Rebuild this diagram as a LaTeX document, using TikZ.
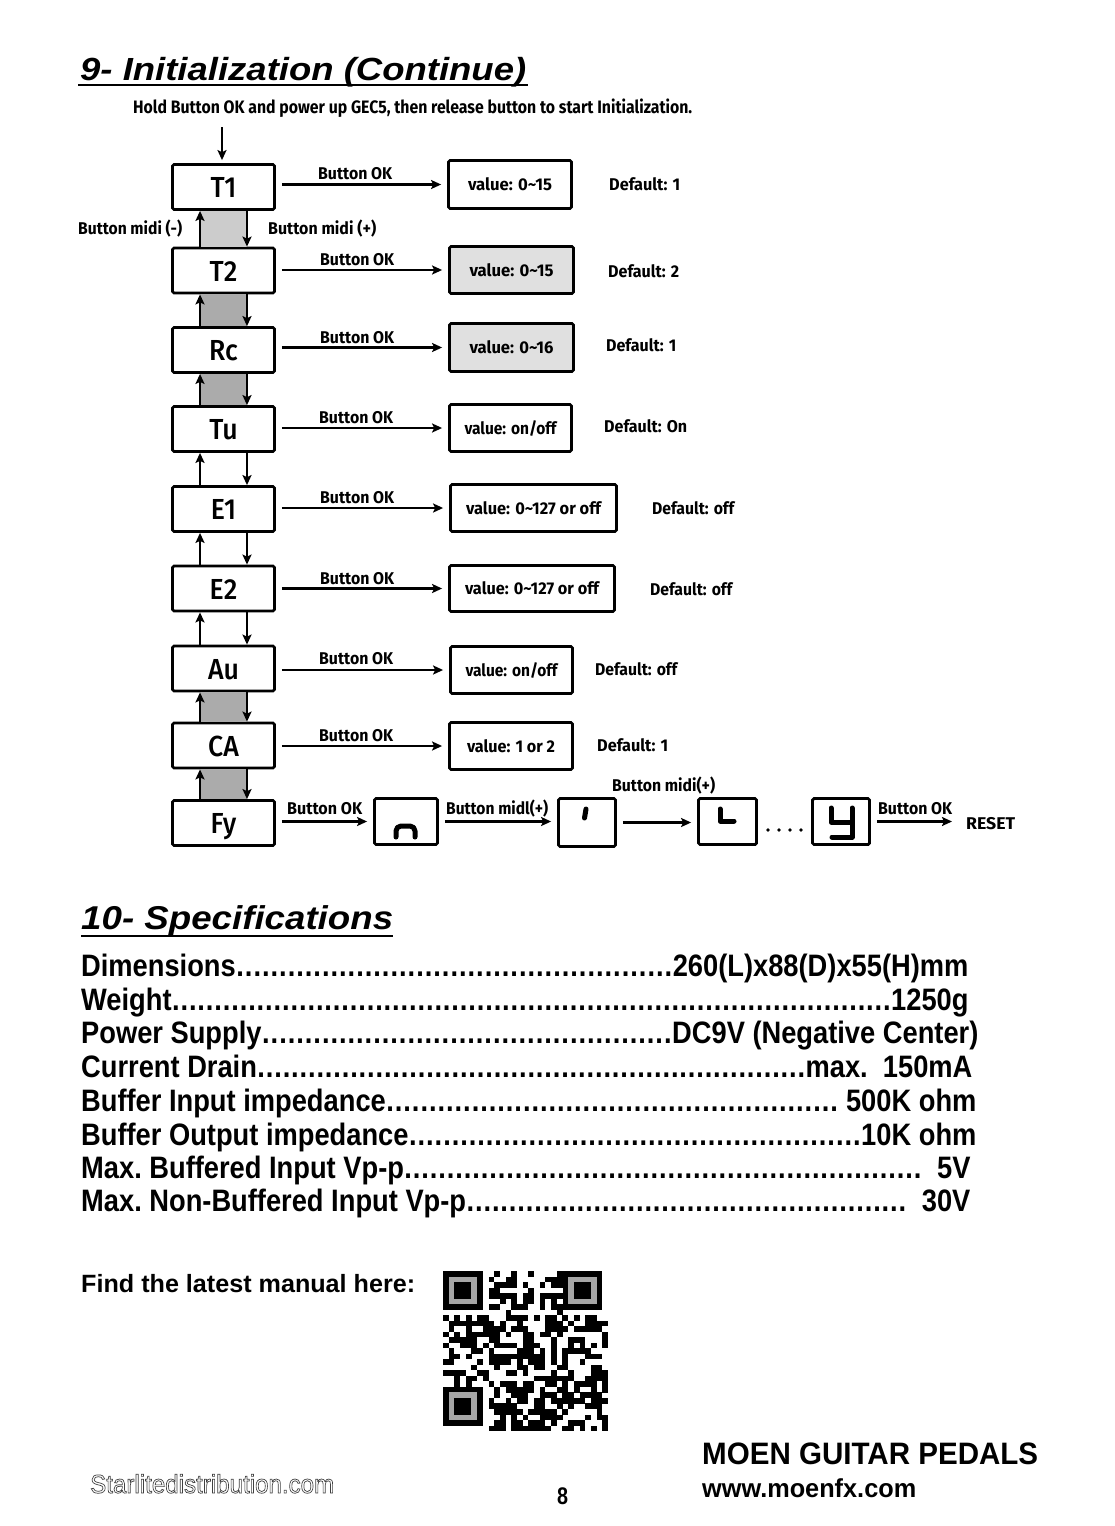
\documentclass[tikz,border=0pt]{standalone}
\usepackage{fontspec}
\usepackage{graphicx}
\usetikzlibrary{arrows.meta,calc}
\setmainfont{Liberation Sans}
\newfontfamily\cnd[FakeStretch=0.8]{Fira Sans}
\newfontfamily\bxf[FakeStretch=0.92]{Fira Sans Medium}
\newfontfamily\spf[FakeStretch=0.88]{Liberation Sans}
\newcommand{\fw}[2]{\resizebox{#1pt}{\height}{#2}}
\newcommand{\fsz}[1]{\fontsize{#1}{#1}\selectfont}
\newcommand{\specdots}{\xleaders\hbox to 8.4pt{\hss.\hss}\hfill}
\begin{document}
\begin{tikzpicture}[x=1pt,y=-1pt,
  box/.style={draw, line width=2.8pt, rounded corners=1.5pt, minimum width=102pt, minimum height=45pt,
    inner sep=0pt, font=\bxf\fsz{29}, text height=21pt, text depth=0pt},
  valbox/.style={draw, line width=2.8pt, rounded corners=1.5pt, inner sep=0pt,
    font=\cnd\bfseries\fsz{17}, text height=12pt, text depth=0pt},
  sbox/.style={draw, line width=2.8pt, rounded corners=1.5pt, inner sep=0pt},
  lbl/.style={inner sep=0pt, anchor=base west, font=\cnd\bfseries\fsz{17}, text depth=0pt},
  harrow/.style={line width=2.2pt, -{Stealth[length=10pt,width=9pt,inset=2pt]}, shorten <=6pt, shorten >=6pt},
  varrow/.style={line width=2.6pt, -{Stealth[length=10pt,width=9pt,inset=2pt]}},
  seg/.style={line width=5pt, line cap=round, line join=round},
  spec/.style={inner sep=0pt, anchor=base west, font=\spf\bfseries\fsz{31}},
  gfill/.style={fill=black!33},
  gfilll/.style={fill=black!20},
]
\useasboundingbox (0,0) rectangle (1115,1526);
\fill[white] (0,0) rectangle (1115,1526);

% ---------- Title ----------
\node[inner sep=0pt, anchor=base west] (ttl) at (80,80) {\fw{446}{\bfseries\itshape\fsz{32}9- Initialization (Continue)}};
\draw[line width=2.8pt] (78,85) -- (528,85);
\node[lbl] (sub) at (133,113) {\fw{559}{\fsz{18}Hold Button OK and power up GEC5, then release button to start Initialization.}};

% ---------- Left column ----------
\node[box] (T1) at (223.5,187) {T1};
\node[box] (T2) at (223.5,270.5) {T2};
\node[box] (Rc) at (223.5,350) {Rc};
\node[box] (Tu) at (223.5,429) {Tu};
\node[box] (E1) at (223.5,509) {E1};
\node[box] (E2) at (223.5,588.5) {E2};
\node[box] (Au) at (223.5,668.5) {Au};
\node[box] (CA) at (223.5,745.5) {CA};
\node[box] (Fy) at (223.5,823) {Fy};

\coordinate (start) at (222,127);
\draw[varrow, shorten >=3pt] (start) -- (start |- T1.north);

% gray fills
\fill[gfilll] ([xshift=-23.5pt]T1.south) rectangle ([xshift=23.5pt]T2.north);
\fill[gfill] ([xshift=-23.5pt]T2.south) rectangle ([xshift=23.5pt]Rc.north);
\fill[gfill] ([xshift=-23.5pt]Rc.south) rectangle ([xshift=23.5pt]Tu.north);
\fill[gfill] ([xshift=-23.5pt]Au.south) rectangle ([xshift=23.5pt]CA.north);
\fill[gfill] ([xshift=-23.5pt]CA.south) rectangle ([xshift=23.5pt]Fy.north);

% up / down arrows
\foreach \u/\l in {T1/T2, T2/Rc, Rc/Tu, Tu/E1, E1/E2, E2/Au, Au/CA, CA/Fy}{
  \draw[varrow] ([xshift=-23.5pt]\l.north) -- ([xshift=-23.5pt]\u.south);
  \draw[varrow] ([xshift=23.5pt]\u.south) -- ([xshift=23.5pt]\l.north);
}
\node[lbl] (bm) at (78,234) {\fw{104}{Button midi (-)}};
\node[lbl] (bp) at (268,234) {\fw{108}{Button midi (+)}};

% ---------- Value boxes ----------
\node[valbox, minimum width=123pt, minimum height=48pt] (v1) at (510,184.5) {\fw{84}{value: 0\textasciitilde15}};
\node[valbox, fill=black!12, minimum width=124pt, minimum height=47pt] (v2) at (511.5,270) {\fw{84}{value: 0\textasciitilde15}};
\node[valbox, fill=black!12, minimum width=124pt, minimum height=48pt] (v3) at (511.5,347.5) {\fw{84}{value: 0\textasciitilde16}};
\node[valbox, minimum width=122pt, minimum height=47pt] (v4) at (510.5,428) {\fw{92}{value: on/off}};
\node[valbox, minimum width=166pt, minimum height=47pt] (v5) at (533.5,508) {\fw{135}{value: 0\textasciitilde127 or off}};
\node[valbox, minimum width=165pt, minimum height=46pt] (v6) at (532,588.5) {\fw{134}{value: 0\textasciitilde127 or off}};
\node[valbox, minimum width=122pt, minimum height=47pt] (v7) at (511.5,670) {\fw{92}{value: on/off}};
\node[valbox, minimum width=123pt, minimum height=47pt] (v8) at (511,746) {\fw{88}{value: 1 or 2}};

\foreach \b/\v in {T1/v1, T2/v2, Rc/v3, Tu/v4, E1/v5, E2/v6, Au/v7, CA/v8}{
  \draw[harrow] (\v.west -| \b.east) -- (\v.west);
}
\node[lbl] (ok1) at (318,179) {\fw{74}{Button OK}};
\node[lbl] (ok2) at (320,265) {\fw{74}{Button OK}};
\node[lbl] (ok3) at (320,343) {\fw{74}{Button OK}};
\node[lbl] (ok4) at (319,423) {\fw{74}{Button OK}};
\node[lbl] (ok5) at (320,503) {\fw{74}{Button OK}};
\node[lbl] (ok6) at (320,584) {\fw{74}{Button OK}};
\node[lbl] (ok7) at (319,664) {\fw{74}{Button OK}};
\node[lbl] (ok8) at (319,741) {\fw{74}{Button OK}};

\node[lbl] (d1) at (609,190) {\fw{71}{Default: 1}};
\node[lbl] (d2) at (608,277) {\fw{71}{Default: 2}};
\node[lbl] (d3) at (606,351) {\fw{70}{Default: 1}};
\node[lbl] (d4) at (604,432) {\fw{83}{Default: On}};
\node[lbl] (d5) at (652,514) {\fw{82}{Default: off}};
\node[lbl] (d6) at (650,595) {\fw{82}{Default: off}};
\node[lbl] (d7) at (595,675) {\fw{82}{Default: off}};
\node[lbl] (d8) at (597,751) {\fw{71}{Default: 1}};

% ---------- Fy row ----------
\node[sbox, minimum width=63pt, minimum height=46pt] (sn) at (406,821.5) {};
\node[sbox, minimum width=57pt, minimum height=48pt] (st) at (587,822.5) {};
\node[sbox, minimum width=58pt, minimum height=46pt] (sl) at (727.5,821.5) {};
\node[sbox, minimum width=57pt, minimum height=46pt] (sy) at (841,821.5) {};
\node[lbl] (reset) at (966,829) {\fw{49}{RESET}};

\draw[harrow] (sn.west -| Fy.east) -- (sn.west);
\draw[harrow] (sn.east) -- (sn.east -| st.west);
\draw[harrow] (st.east) -- (st.east -| sl.west);
\draw[harrow, shorten >=14pt] (sy.east) -- (sy.east -| reset.west);
\node[lbl] (okf) at (287,814) {\fw{75}{Button OK}};
\node[lbl] (bmf) at (446,814) {\fw{102}{Button midl(+)}};
\node[lbl] (bmf2) at (612,791) {\fw{103}{Button midi(+)}};
\node[lbl] (okr) at (878,814) {\fw{74}{Button OK}};

\draw[seg, rounded corners=5pt] (396,837) -- (396,826) -- (415,826) -- (415,837);
\draw[seg] (586,809) -- (584.5,818);
\draw[seg] (720,809) -- (720,821) -- (734,821);
\draw[seg] (831,808) -- (831,822) -- (852,822);
\draw[seg] (852,808) -- (852,837) -- (832,837);
\foreach \x in {768,779,790,801} \fill (\x,830) circle (1.8);

% ---------- Specifications ----------
\node[inner sep=0pt, anchor=base west] (spt) at (81,929) {\fw{312}{\bfseries\itshape\fsz{33}10- Specifications}};
\draw[line width=2.8pt] (81,936) -- (393,936);

\node[spec] (s1) at (81,976) {\hbox to 887pt{Dimensions\specdots 260(L)x88(D)x55(H)mm}};
\node[spec] (s2) at (81,1010) {\hbox to 887pt{Weight\specdots 1250g}};
\node[spec] (s3) at (81,1043) {\hbox to 897pt{Power Supply\specdots DC9V (Negative Center)}};
\node[spec] (s4) at (81,1077) {\hbox to 891pt{Current Drain\specdots max.\ \ 150mA}};
\node[spec] (s5) at (81,1111) {\hbox to 895pt{Buffer Input impedance\specdots\ 500K ohm}};
\node[spec] (s6) at (81,1145) {\hbox to 895pt{Buffer Output impedance\specdots 10K ohm}};
\node[spec] (s7) at (81,1178) {\hbox to 889pt{Max.\ Buffered Input Vp-p\specdots\ \ 5V}};
\node[spec] (s8) at (81,1211) {\hbox to 889pt{Max.\ Non-Buffered Input Vp-p\specdots\ \ 30V}};

% ---------- Bottom ----------
\node[spec] (find) at (81,1292) {\fw{334}{\fsz{25}Find the latest manual here:}};

% QR code (29 x 29 modules)
\pgfmathsetseed{4242}
\foreach \i in {0,...,28}{
  \foreach \j in {0,...,28}{
    \pgfmathtruncatemacro\qr{((\i<8)&&(\j<8))||((\i>20)&&(\j<8))||((\i<8)&&(\j>20)) ? 0 : (random(0,99)<52 ? 1 : 0)}
    \ifnum\qr=1 \fill (443+\i*5.69,1271+\j*5.52) rectangle ++(5.75,5.58);\fi
  }
}
\foreach \qx/\qy in {443/1271, 562.5/1271, 443/1386.9}{
  \fill (\qx,\qy) rectangle ++(39.8,38.6);
  \fill[black!35] (\qx+5.69,\qy+5.52) rectangle ++(28.45,27.6);
  \fill (\qx+11.38,\qy+11.04) rectangle ++(17.07,16.56);
}

\node[inner sep=0pt, anchor=base west] (moen) at (702,1464) {\fw{336}{\bfseries\fsz{31}MOEN GUITAR PEDALS}};
\node[inner sep=0pt, anchor=base west] (www) at (702,1497) {\fw{214}{\bfseries\fsz{26}www.moenfx.com}};
\node[inner sep=0pt, anchor=base west] (pg) at (557,1504) {\fw{11}{\bfseries\fsz{24}8}};
\node[inner sep=0pt, anchor=base west, text=black!75] (star) at (90,1493) {\fw{244}{\fsz{26}\special{pdf:code 1 Tr 0.7 w}Starlitedistribution.com\special{pdf:code 0 Tr}}};
\end{tikzpicture}
\end{document}
